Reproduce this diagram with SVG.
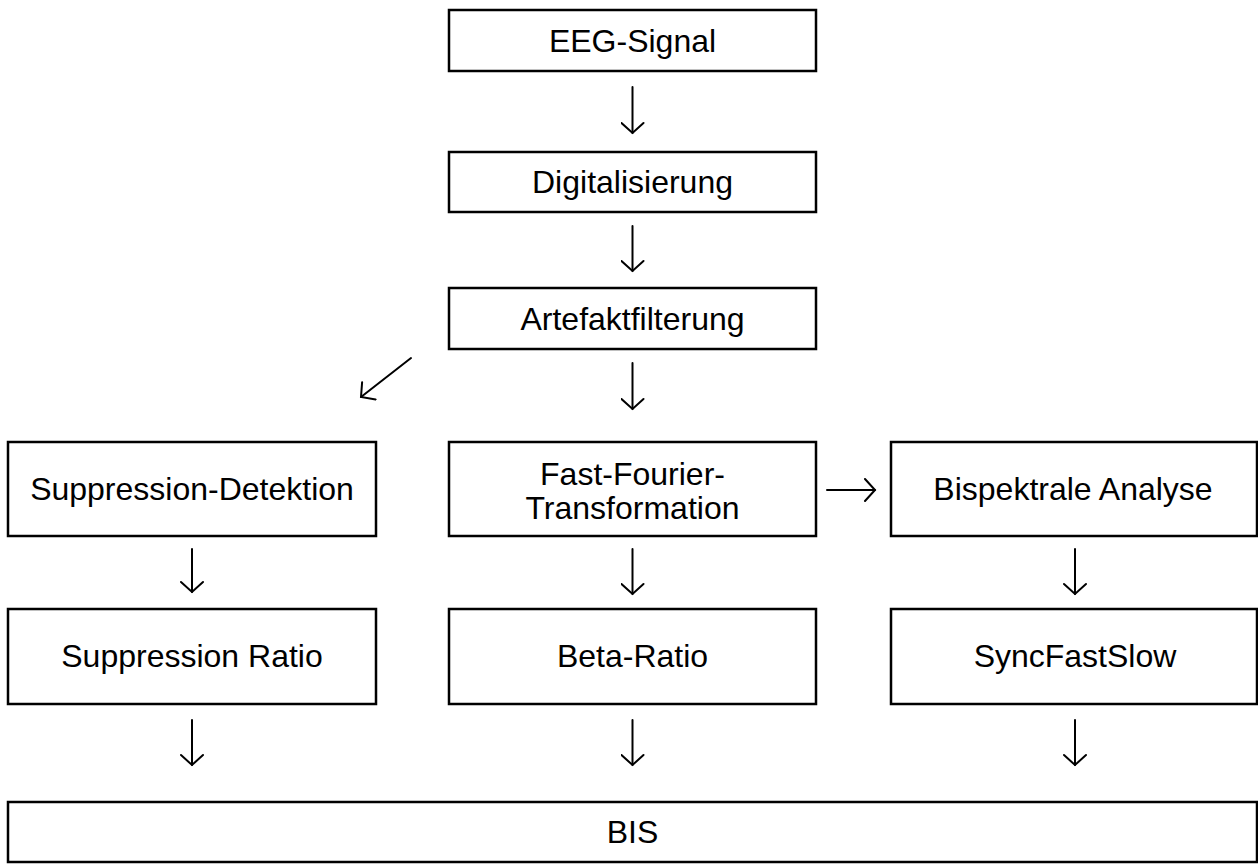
<svg xmlns="http://www.w3.org/2000/svg" width="1258" height="864" viewBox="0 0 1258 864">
  <style>
    .box { fill: #fff; stroke: #000; stroke-width: 2.5; }
    .lbl { font-family: "Liberation Sans", Arial, sans-serif; font-size: 32px; fill: #000; text-anchor: middle; }
    .arr { fill: none; stroke: #000; stroke-width: 2; stroke-linecap: round; stroke-linejoin: round; }
  </style>
  <defs>
    <marker id="head" viewBox="-12 -12 24 24" markerWidth="24" markerHeight="24" refX="0" refY="0" orient="auto" markerUnits="userSpaceOnUse">
      <path d="M-10,-11 L0,0 L-10,11" fill="none" stroke="#000" stroke-width="2" stroke-linecap="round" stroke-linejoin="miter"/>
    </marker>
  </defs>
  <rect width="1258" height="864" fill="#fff"/>

  <g id="eeg">
    <rect class="box" x="449" y="10" width="367" height="61"/>
    <text class="lbl" x="632.5" y="52">EEG-Signal</text>
  </g>
  <g id="digital">
    <rect class="box" x="449" y="152" width="367" height="60"/>
    <text class="lbl" x="632.5" y="193">Digitalisierung</text>
  </g>
  <g id="artefakt">
    <rect class="box" x="449" y="288" width="367" height="61"/>
    <text class="lbl" x="632.5" y="330">Artefaktfilterung</text>
  </g>
  <g id="suppdet">
    <rect class="box" x="8" y="442" width="368" height="94"/>
    <text class="lbl" x="192" y="500">Suppression-Detektion</text>
  </g>
  <g id="fft">
    <rect class="box" x="449" y="442" width="367" height="94"/>
    <text class="lbl" x="632.5" y="485">Fast-Fourier-</text>
    <text class="lbl" x="632.5" y="519">Transformation</text>
  </g>
  <g id="bispek">
    <rect class="box" x="891" y="442" width="366" height="94"/>
    <text class="lbl" x="1073" y="500">Bispektrale Analyse</text>
  </g>
  <g id="suppratio">
    <rect class="box" x="8" y="609" width="368" height="95"/>
    <text class="lbl" x="192" y="667">Suppression Ratio</text>
  </g>
  <g id="beta">
    <rect class="box" x="449" y="609" width="367" height="95"/>
    <text class="lbl" x="632.5" y="667">Beta-Ratio</text>
  </g>
  <g id="sync">
    <rect class="box" x="891" y="609" width="366" height="95"/>
    <text class="lbl" x="1075" y="667">SyncFastSlow</text>
  </g>
  <g id="bis">
    <rect class="box" x="8" y="802" width="1249" height="60"/>
    <text class="lbl" x="632.5" y="843">BIS</text>
  </g>

  <g id="connectors" class="arr">
    <line x1="632.5" y1="87" x2="632.5" y2="133" marker-end="url(#head)"/>
    <line x1="632.5" y1="226" x2="632.5" y2="271" marker-end="url(#head)"/>
    <line x1="632.5" y1="363" x2="632.5" y2="409" marker-end="url(#head)"/>
    <line x1="411" y1="358" x2="361" y2="397" marker-end="url(#head)"/>
    <line x1="827" y1="490" x2="875" y2="490" marker-end="url(#head)"/>
    <line x1="192" y1="549" x2="192" y2="592" marker-end="url(#head)"/>
    <line x1="632.5" y1="549" x2="632.5" y2="594" marker-end="url(#head)"/>
    <line x1="1075" y1="549" x2="1075" y2="594" marker-end="url(#head)"/>
    <line x1="192" y1="720" x2="192" y2="765" marker-end="url(#head)"/>
    <line x1="632.5" y1="720" x2="632.5" y2="765" marker-end="url(#head)"/>
    <line x1="1075" y1="720" x2="1075" y2="765" marker-end="url(#head)"/>
  </g>
</svg>
